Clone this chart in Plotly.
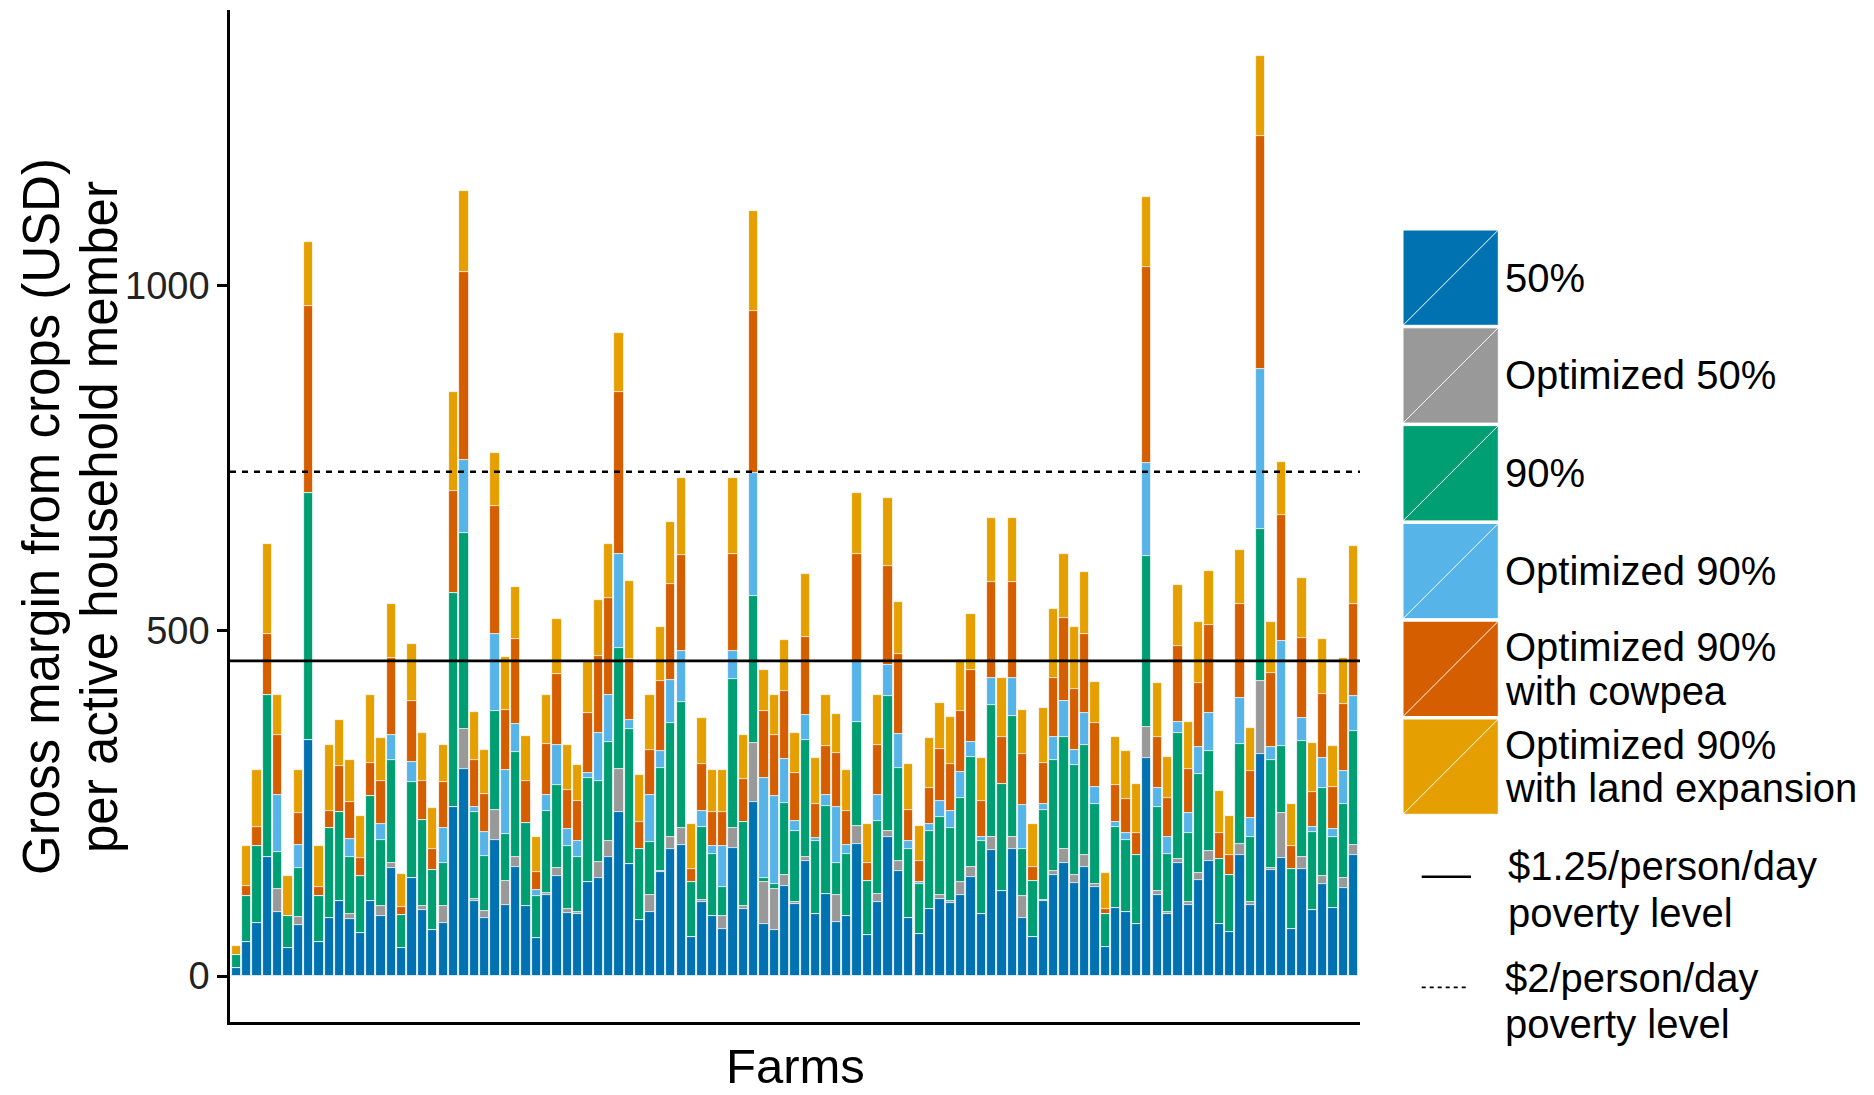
import plotly.graph_objects as go

# ---------------- data (USD per active household member, cumulative level per scenario) -------------
farms = list(range(1, 110))

gm_50 = [11.6, 49.7, 76.7, 172.6, 92.6, 40, 73.3, 342.3, 49.7, 84.4,
         109, 82, 62.2, 109, 87.3, 156.7, 41, 141.3, 95.5, 66.5,
         77.1, 245, 300, 108.5, 84.4, 197.2, 102.2, 157.7, 100.8, 55.4,
         116.7, 144.2, 91.6, 89.2, 135.5, 142.2, 173, 237.7, 161.5, 80.5,
         93, 150, 183.2, 189, 56.9, 107.5, 86.3, 68, 185.6, 97,
         251.7, 74.7, 66.5, 129.7, 104.6, 165.9, 89.2, 118.6, 78.1, 86.3,
         190.9, 59.8, 107, 201, 151.4, 84.4, 60.8, 97.4, 111.9, 106,
         117.6, 143.7, 90.2, 181.8, 122.5, 184.2, 84.4, 56.9, 108, 145.6,
         163, 134, 158, 129.2, 41.5, 98.4, 92.6, 75.2, 316.3, 117.6,
         89.2, 164, 103.2, 138.9, 165.9, 75.2, 63.6, 174.5, 102.2, 321.6,
         152.8, 170.2, 67.5, 154.3, 95, 132.6, 98.8, 126.8, 175.5]

gm_opt50 = [11.6, 49.7, 76.7, 172.6, 125.4, 40, 85.3, 342.3, 49.7, 84.4,
            109, 90.2, 62.2, 109, 101.3, 164, 41, 141.3, 101.3, 66.5,
            101.3, 245, 357.8, 111.9, 94.5, 241, 137, 173, 100.8, 55.4,
            120, 155.7, 97.4, 92.6, 135.5, 164.4, 194.8, 299.4, 161.5, 80.5,
            116.7, 152.4, 201, 214.6, 56.9, 110.4, 86.3, 86.3, 214.6, 101.7,
            337.5, 136.5, 125.4, 146.6, 106.6, 172.6, 89.2, 118.6, 116.7, 86.3,
            217, 59.8, 119, 209.3, 165.9, 84.4, 60.8, 97.4, 117.2, 109,
            136.5, 157.2, 90.2, 201.5, 122.5, 201.5, 115.7, 56.9, 110, 152.4,
            183.2, 146, 174.5, 133, 41.5, 98.4, 92.6, 75.2, 361.1, 122.5,
            92.6, 169.2, 107.5, 149.5, 180.3, 75.2, 63.6, 190.5, 107, 427.7,
            156.2, 236.7, 67.5, 172.6, 95, 144.6, 98.8, 141.3, 190]

gm_90 = [30.9, 115.7, 188.5, 407, 179.4, 86.3, 156.7, 699, 115.7, 213.6,
         237.7, 171.6, 145, 261.3, 196.2, 312, 88.7, 281, 225.7, 152.8,
         163, 554, 641, 237.7, 174, 384.3, 206, 324.5, 221.8, 116.2,
         238.2, 277.2, 187.6, 171.6, 286.4, 281.6, 339.4, 475, 358.2, 184.2,
         193.8, 301.3, 366, 396.8, 136.5, 216, 177, 128.3, 430.6, 222.3,
         550.6, 141.8, 133.6, 249.8, 209.3, 341.4, 194.8, 246.4, 163.5, 176.5,
         368.4, 137, 223.7, 405, 301.3, 183.2, 133, 209.7, 230.5, 213.6,
         258, 317.3, 195.8, 393, 278.2, 376, 183.2, 137, 241, 312,
         346.7, 305.2, 334, 249.3, 89.7, 215.5, 196.2, 175, 608.5, 244.5,
         176, 352, 206.8, 292.2, 326, 169.2, 145.6, 336, 200.6, 647.5,
         312, 332.7, 154.3, 340.4, 207.8, 272.4, 201.5, 248.3, 354.9]

gm_opt90 = [30.9, 115.7, 188.5, 407, 261.8, 86.3, 189, 699, 115.7, 213.6,
            237.7, 199, 145, 261.3, 219.9, 348.6, 88.7, 310, 225.7, 152.8,
            213.6, 554, 747.4, 245, 208.8, 495.2, 298, 365.5, 221.8, 124,
            262.3, 334.6, 213, 194.8, 294, 352.5, 407.4, 611.4, 371.3, 184.2,
            261.8, 326, 428.6, 470, 136.5, 239.2, 188.5, 188.5, 470, 222.3,
            728.2, 286, 261.3, 314.4, 224.7, 378, 200, 261.8, 244, 189.5,
            455.6, 137, 262.3, 450.8, 351, 195.8, 135.5, 219.9, 253.6, 239.6,
            296, 339.4, 201, 432, 278.2, 432, 246.9, 137, 248.8, 345.7,
            398.7, 327, 380.4, 274.3, 89.7, 222.3, 207.3, 175, 742.6, 272,
            201.5, 367.4, 235.3, 331.7, 381, 169.2, 145.6, 402, 229, 878.6,
            331.2, 485.5, 154.3, 374.2, 215.5, 316.3, 212.1, 297.5, 405]

gm_cowpea = [30.9, 130, 215.5, 495.7, 349, 86.3, 235.3, 970.6, 129.2, 239,
             304.7, 252.2, 171.2, 308.6, 281.6, 460, 99.8, 398.3, 282, 184.2,
             280.6, 702, 1019, 312.4, 262.8, 680.3, 385.7, 488, 282, 150,
             336.5, 437.8, 270, 254, 381.4, 463.4, 547.3, 845.8, 459, 222.8,
             327, 427.2, 568, 609.4, 155.3, 307, 237.7, 237.7, 610.4, 285.4,
             963, 383.8, 349, 413.2, 293.6, 490.4, 249.3, 332.7, 323, 239.6,
             611.4, 163, 334, 594, 466.7, 240.6, 165.9, 272.9, 328.8, 306.2,
             383.8, 443.6, 252.7, 570.9, 345.7, 570.9, 322, 158, 309, 431,
             518.3, 415, 495.2, 367, 97.4, 276.3, 256.5, 206.8, 1026.2, 346.7,
             257, 477.8, 300.4, 424.3, 507.7, 206.4, 174.5, 538, 297.5, 1216,
             438.8, 667.8, 187.6, 489.9, 267.1, 408, 274.3, 394.4, 538]

gm_land = [43.4, 188, 298, 626, 407, 144.6, 298, 1063.2, 188, 334,
           371.3, 313, 232, 407, 344.7, 538.6, 147.5, 480.2, 352.5, 243,
           334, 844.8, 1136, 382.8, 327.4, 756.6, 461.4, 563, 347.2, 201,
           407, 516.9, 334, 305.7, 456.6, 543.9, 625.8, 931.6, 571.4, 290.7,
           407, 504.8, 656.7, 720.4, 219.4, 373.2, 298, 298, 720.4, 348.6,
           1107.2, 442.6, 407, 486.5, 352, 582, 315.3, 407, 380, 298,
           698.6, 219.9, 407, 691.4, 541.5, 307.6, 217, 345.2, 395.4, 374.6,
           458, 523.6, 315.8, 662.5, 431.5, 662.5, 385.2, 219.9, 387.7, 531.8,
           611.4, 504.8, 584.9, 426, 149, 346.7, 325.5, 278.2, 1128.3, 424.3,
           317.3, 566, 367.4, 512, 586.3, 267.6, 232, 616.7, 358.7, 1331.9,
           513, 743.5, 248.8, 575.7, 337.5, 488.4, 333.2, 460.5, 623]

scenario_names = ["50%", "Optimized 50%", "90%", "Optimized 90%",
                  "Optimized 90%<br>with cowpea", "Optimized 90%<br>with land expansion"]
scenario_colors = ["#0072B2", "#999999", "#009E73", "#56B4E9", "#D55E00", "#E69F00"]
poverty_125 = 1.25 * 365   # USD / person / year
poverty_2 = 2.0 * 365
y_ticks = [0, 500, 1000]

series = [gm_50, gm_opt50, gm_90, gm_opt90, gm_cowpea, gm_land]

# ---------------- layout geometry (pixels) ----------------
FW, FH = 1874, 1095
L, R, T, B = 230, 1360, 10, 1022
W, H = R - L, B - T
FONT = "Liberation Sans, Arial, Helvetica, sans-serif"


def px(x):
    return (x - L) / W


def py(y):
    return (B - y) / H


ymax = max(gm_land)
yrange = [-0.05 * ymax, ymax * 1.05]

fig = go.Figure()
# draw largest scenario first, smaller ones overlaid in front
for vals, name, col in reversed(list(zip(series, scenario_names, scenario_colors))):
    fig.add_trace(go.Bar(
        x=farms, y=vals, name=name, width=0.9,
        marker=dict(color=col, line=dict(color="white", width=0.8)),
        showlegend=False,
    ))

shapes = [
    dict(type="line", xref="paper", yref="y", x0=0, x1=1, y0=poverty_125, y1=poverty_125,
         line=dict(color="black", width=2.7), layer="above"),
    dict(type="line", xref="paper", yref="y", x0=0, x1=1, y0=poverty_2, y1=poverty_2,
         line=dict(color="black", width=2.7, dash="6px,6px"), layer="above"),
]

annotations = []

# ---------------- custom legend ----------------
key_x0, key_x1 = 1403, 1498.3
key_top, key_pitch, key_h = 230, 97.8, 95.3
TX = 1503
legend_lines = [["50%"], ["Optimized 50%"], ["90%"], ["Optimized 90%"],
                ["Optimized 90%", "with cowpea"], ["Optimized 90%", "with land expansion"]]
for i, (col, lines) in enumerate(zip(scenario_colors, legend_lines)):
    y0 = key_top + i * key_pitch
    y1 = y0 + key_h
    shapes.append(dict(type="rect", xref="paper", yref="paper",
                       x0=px(key_x0), x1=px(key_x1), y0=py(y1), y1=py(y0),
                       fillcolor=col, line=dict(color="white", width=1), layer="above"))
    shapes.append(dict(type="line", xref="paper", yref="paper",
                       x0=px(key_x0), x1=px(key_x1), y0=py(y1), y1=py(y0),
                       line=dict(color="white", width=1), layer="above"))
    yc = (y0 + y1) / 2
    n = len(lines)
    for j, t in enumerate(lines):
        ycap = yc + (j - (n - 1) / 2) * 43.3
        annotations.append(dict(text=t, x=px(TX), y=py(ycap), xref="paper", yref="paper",
                                xanchor="left", yanchor="middle", showarrow=False,
                                font=dict(family=FONT, size=40, color="black")))

# poverty line keys
shapes.append(dict(type="line", xref="paper", yref="paper", x0=px(1421.7), x1=px(1471),
                   y0=py(876.7), y1=py(876.7), line=dict(color="black", width=2.5)))
shapes.append(dict(type="line", xref="paper", yref="paper", x0=px(1421.7), x1=px(1468),
                   y0=py(987.3), y1=py(987.3), line=dict(color="black", width=1.8, dash="4px,4px")))
pov_text = [("$1.25/person/day", TX + 3.3, 866), ("poverty level", TX + 3.3, 912.5),
            ("$2/person/day", TX, 977.5), ("poverty level", TX, 1024)]
for t, x, y in pov_text:
    annotations.append(dict(text=t, x=px(x), y=py(y), xref="paper", yref="paper",
                            xanchor="left", yanchor="middle", showarrow=False,
                            font=dict(family=FONT, size=40, color="black")))

# axis titles
annotations.append(dict(text="Gross margin from crops (USD)", x=px(41), y=py(517),
                        xref="paper", yref="paper", xanchor="center", yanchor="middle",
                        textangle=-90, showarrow=False,
                        font=dict(family=FONT, size=51, color="black")))
annotations.append(dict(text="per active household member", x=px(99), y=py(517),
                        xref="paper", yref="paper", xanchor="center", yanchor="middle",
                        textangle=-90, showarrow=False,
                        font=dict(family=FONT, size=51, color="black")))
annotations.append(dict(text="Farms", x=px(795), y=py(1094), borderpad=0,
                        xref="paper", yref="paper", xanchor="center", yanchor="bottom",
                        showarrow=False, font=dict(family=FONT, size=49, color="black")))

fig.update_layout(
    width=FW, height=FH, barmode="overlay", bargap=0,
    margin=dict(l=L, r=FW - R, t=T, b=FH - B, pad=0),
    plot_bgcolor="white", paper_bgcolor="white",
    font=dict(family=FONT, color="black"),
    shapes=shapes, annotations=annotations, showlegend=False,
    xaxis=dict(range=[0.4, 109.6], showgrid=False, zeroline=False, showticklabels=False,
               ticks="", showline=True, linecolor="black", linewidth=2.5),
    yaxis=dict(range=yrange, showgrid=False, zeroline=False, tickvals=y_ticks,
               ticktext=[str(v) for v in y_ticks], ticks="outside", ticklen=10, tickwidth=2.5,
               tickcolor="black", showline=True, linecolor="black", linewidth=2.5,
               tickfont=dict(family=FONT, size=38, color="#222222")),
)

fig.write_html("out.html", config={"displayModeBar": False},
               post_script="document.body.style.margin='0';")
